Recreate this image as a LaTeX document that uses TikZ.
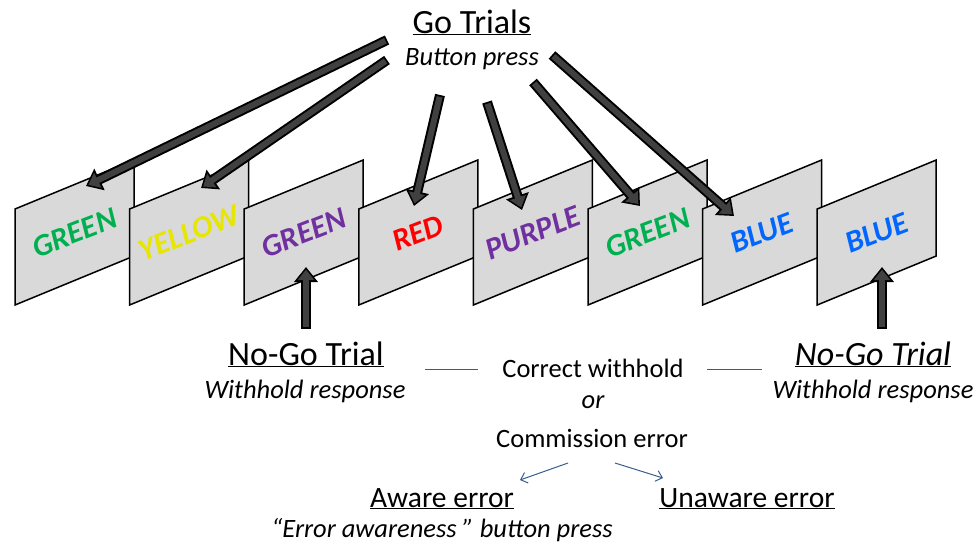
\documentclass[tikz,border=0pt]{standalone}
\usepackage{fontspec}
\setmainfont{Carlito}
\usetikzlibrary{arrows.meta}
\definecolor{cardgray}{HTML}{D9D9D9}
\definecolor{arrgray}{HTML}{404040}
\definecolor{linkblue}{HTML}{385D8A}
\definecolor{wgreen}{HTML}{00B050}
\definecolor{wyellow}{HTML}{E6E600}
\definecolor{wpurple}{HTML}{7030A0}
\definecolor{wred}{HTML}{FF0000}
\definecolor{wblue}{HTML}{0066FF}
\tikzstyle{card} = [draw=black, fill=cardgray, line width=1.5pt]
\tikzstyle{word} = [font=\fontsize{31}{31}\selectfont\bfseries\itshape, rotate=21, inner sep=0pt]
\tikzstyle{headtxt} = [font=\fontsize{34}{34}\selectfont, anchor=base, inner sep=0pt]
\tikzstyle{outtxt} = [font=\fontsize{29.5}{29.5}\selectfont, anchor=base, inner sep=0pt]
\tikzstyle{subtxt} = [font=\fontsize{26.5}{26.5}\selectfont\itshape, anchor=base, inner sep=0pt]
\tikzstyle{plaintxt} = [font=\fontsize{26.5}{26.5}\selectfont, anchor=base, inner sep=0pt]
\tikzstyle{bigarrow} = [draw=black, line width=10pt, -{Triangle[width=23pt,length=15pt]},
  postaction={draw=arrgray, line width=6pt, shorten <=1.8pt, shorten >=2.6pt, -{Triangle[width=16pt,length=10.5pt]}}]
\tikzstyle{link} = [draw=linkblue, line width=1pt]
\tikzstyle{branch} = [link, -{Straight Barb[length=6pt,width=11pt]}]

\begin{document}
\begin{tikzpicture}[x=1pt, y=-1pt]
	\useasboundingbox (0,0) rectangle (976,547);
	\foreach \w/\c [count=\i from 0] in {GREEN/wgreen, YELLOW/wyellow, GREEN/wpurple, RED/wred,
		PURPLE/wpurple, GREEN/wgreen, BLUE/wblue, BLUE/wblue} {
		\draw[card] (15+114.6*\i,305) -- ++(0,-96) -- ++(119,-49) -- ++(0,96) -- cycle;
		\node[word, text=\c] (w\i) at (74.5+114.6*\i,233) {\w};
	}

	\node[headtxt] (go) at (472,33) {\underline{Go Trials}};
	\node[subtxt] (press) at (472,65) {Button press};

	\coordinate (g1) at (387,40);  \coordinate (t1) at (86,186);
	\coordinate (g2) at (387,60);  \coordinate (t2) at (201,188);
	\coordinate (g3) at (440,95);  \coordinate (t3) at (414,206);
	\coordinate (g4) at (487,102); \coordinate (t4) at (522,210);
	\coordinate (g5) at (533,82);  \coordinate (t5) at (640,206);
	\coordinate (g6) at (552,55);  \coordinate (t6) at (734,216);
	\foreach \k in {1,...,6}
		\draw[bigarrow] (g\k) -- (t\k);

	\coordinate (u1) at (306,329); \coordinate (v1) at (306,267);
	\coordinate (u2) at (882,329); \coordinate (v2) at (882,267);
	\draw[bigarrow] (u1) -- (v1);
	\draw[bigarrow] (u2) -- (v2);

	\node[headtxt] (nogoA) at (306,365) {\underline{No-Go Trial}};
	\node[subtxt] (holdA) at (305,398) {Withhold response};
	\node[plaintxt] (corr) at (593,377) {Correct withhold};
	\node[subtxt] (or) at (593,408) {or};
	\node[plaintxt] (comm) at (592,447) {Commission error};
	\node[headtxt] (nogoB) at (873,365) {\itshape\underline{No-Go Trial}};
	\node[subtxt] (holdB) at (873,398) {Withhold response};
	\node[outtxt] (aware) at (442,507) {\underline{Aware error}};
	\node[subtxt] (awpress) at (442,537) {“Error awareness ” button press};
	\node[outtxt] (unaware) at (747,507) {\underline{Unaware error}};

	\coordinate (a1) at (425,369); \coordinate (a2) at (478,369);
	\coordinate (b1) at (707,369); \coordinate (b2) at (762,369);
	\draw[link] (a1) -- (a2);
	\draw[link] (b1) -- (b2);

	\coordinate (c1) at (568,463); \coordinate (d1) at (520,480);
	\coordinate (c2) at (615,463); \coordinate (d2) at (663,478);
	\draw[branch] (c1) -- (d1);
	\draw[branch] (c2) -- (d2);
\end{tikzpicture}
\end{document}
